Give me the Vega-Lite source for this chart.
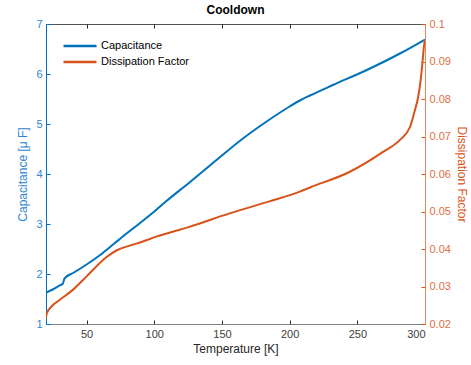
{
  "$schema": "https://vega.github.io/schema/vega-lite/v6.json",
  "width": 379,
  "height": 300,
  "autosize": "none",
  "padding": {"left": 46, "top": 24, "right": 46, "bottom": 41},
  "background": "white",
  "config": {
    "view": {"stroke": null},
    "font": "Liberation Sans",
    "axis": {"grid": false, "labelFontSize": 11, "titleFontSize": 12, "titleFontWeight": "normal", "tickSize": -4, "labelPadding": 10}
  },
  "title": {"text": "Cooldown", "fontSize": 12, "fontWeight": "bold", "color": "#000000", "offset": 1},
  "datasets": {
    "cap": [
      {"T": 20, "C": 1.63}, {"T": 25, "C": 1.69}, {"T": 30, "C": 1.77}, {"T": 32.5, "C": 1.81},
      {"T": 33.5, "C": 1.9}, {"T": 34.4, "C": 1.93}, {"T": 40, "C": 2.02}, {"T": 50, "C": 2.19},
      {"T": 60, "C": 2.38}, {"T": 70, "C": 2.6}, {"T": 80, "C": 2.82}, {"T": 89, "C": 3.01},
      {"T": 100, "C": 3.25}, {"T": 109, "C": 3.46}, {"T": 126, "C": 3.83}, {"T": 146, "C": 4.28},
      {"T": 165, "C": 4.7}, {"T": 183, "C": 5.05}, {"T": 200, "C": 5.35}, {"T": 207.5, "C": 5.47},
      {"T": 215, "C": 5.57}, {"T": 232, "C": 5.78}, {"T": 257, "C": 6.08}, {"T": 281.5, "C": 6.41},
      {"T": 300, "C": 6.69}
    ],
    "df": [
      {"T": 20, "D": 0.0215}, {"T": 20.5, "D": 0.0228}, {"T": 25, "D": 0.025}, {"T": 30, "D": 0.0264},
      {"T": 39.8, "D": 0.0291}, {"T": 50, "D": 0.0327}, {"T": 64.5, "D": 0.0378}, {"T": 72, "D": 0.0396},
      {"T": 81.8, "D": 0.0409}, {"T": 90, "D": 0.0418}, {"T": 101.5, "D": 0.0433}, {"T": 126, "D": 0.0459},
      {"T": 155.7, "D": 0.0495}, {"T": 185, "D": 0.0527}, {"T": 207.5, "D": 0.0553}, {"T": 215, "D": 0.0564},
      {"T": 244.5, "D": 0.0606}, {"T": 269, "D": 0.0659}, {"T": 281.5, "D": 0.0691}, {"T": 289, "D": 0.0726},
      {"T": 292.6, "D": 0.0771}, {"T": 295, "D": 0.0806}, {"T": 296.8, "D": 0.0851}, {"T": 298.3, "D": 0.0904},
      {"T": 299.2, "D": 0.094}, {"T": 300, "D": 0.0957}
    ]
  },
  "layer": [
    {
      "data": {"name": "cap"},
      "mark": {"type": "line", "strokeWidth": 2, "color": "#0072BD", "clip": true, "interpolate": "monotone"},
      "encoding": {
        "x": {"field": "T", "type": "quantitative", "scale": {"domain": [20, 300], "nice": false},
          "axis": {"title": "Temperature [K]", "values": [50, 100, 150, 200, 250, 300], "domainColor": "#808080", "tickColor": "#262626", "labelColor": "#404040", "titleColor": "#262626", "labelPadding": 8, "titlePadding": 4}},
        "y": {"field": "C", "type": "quantitative", "scale": {"domain": [1, 7], "nice": false},
          "axis": {"title": "Capacitance [μ F]", "orient": "left", "values": [1, 2, 3, 4, 5, 6, 7], "domainColor": "#0072BD", "tickColor": "#0072BD", "labelColor": "#2E86CF", "titleColor": "#2E86CF", "labelPadding": 8, "titlePadding": 6}},
        "color": {"datum": "Capacitance", "type": "nominal",
          "scale": {"domain": ["Capacitance", "Dissipation Factor"], "range": ["#0072BD", "#D95319"]},
          "legend": {"title": null, "orient": "none", "legendX": 27, "legendY": 15, "symbolType": "M-3,0H3", "symbolSize": 121, "symbolStrokeWidth": 2.5, "labelFontSize": 11, "labelColor": "#000000", "rowPadding": 4, "padding": 0, "labelOffset": 14}}
      }
    },
    {
      "data": {"name": "df"},
      "mark": {"type": "line", "strokeWidth": 2, "color": "#D95319", "clip": true, "interpolate": "monotone"},
      "encoding": {
        "x": {"field": "T", "type": "quantitative",
          "axis": {"orient": "top", "title": null, "labels": false, "values": [50, 100, 150, 200, 250, 300], "domainColor": "#262626", "tickColor": "#262626", "domainWidth": 0.8}},
        "y": {"field": "D", "type": "quantitative", "scale": {"domain": [0.02, 0.1], "nice": false},
          "axis": {"title": "Dissipation Factor", "orient": "right", "values": [0.02, 0.03, 0.04, 0.05, 0.06, 0.07, 0.08, 0.09, 0.1], "format": ".2~f", "domainColor": "#E8845A", "tickColor": "#D95319", "labelColor": "#E0703F", "titleColor": "#D95319", "labelPadding": 8, "titlePadding": 4}},
        "color": {"datum": "Dissipation Factor", "type": "nominal"}
      }
    }
  ],
  "resolve": {"scale": {"y": "independent"}, "axis": {"x": "independent"}}
}
